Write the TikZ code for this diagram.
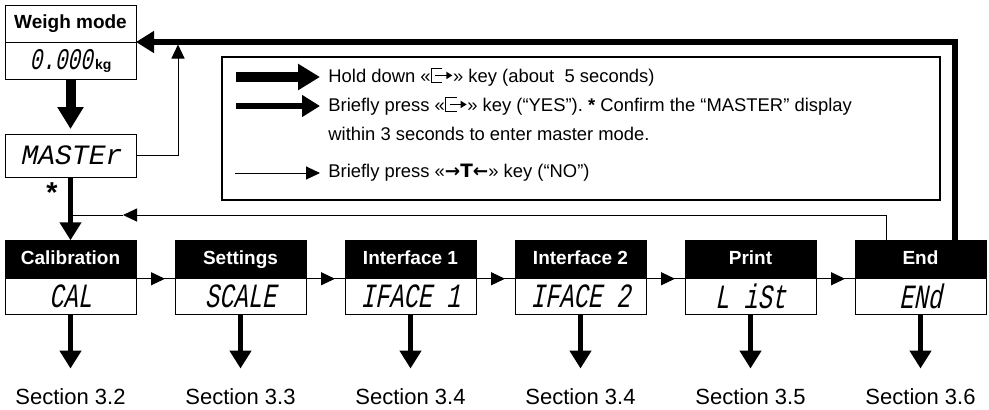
\documentclass[tikz,border=0pt]{standalone}
\usepackage{fontspec}
\setmainfont{Liberation Sans}
\newfontfamily\lcdfont[FakeSlant=0.2,FakeStretch=0.7]{Liberation Mono}
\newfontfamily\lcdwide[FakeSlant=0.2]{Liberation Mono}
\newfontfamily\symfont{DejaVu Sans}
\usetikzlibrary{arrows.meta,positioning}

\tikzset{
  headbox/.style={draw, fill=black, text=white, font=\bfseries\fontsize{9.5}{11}\selectfont,
    text height=7pt, text depth=2pt,
    minimum width=65.5pt, minimum height=19.25pt, inner sep=0pt, outer sep=0pt, line width=0.5pt},
  lcdbox/.style={draw, fill=white, font=\lcdfont\fontsize{17}{19}\selectfont,
    minimum width=65.5pt, minimum height=18pt, inner sep=0pt, outer sep=0pt, line width=0.5pt},
  secnode/.style={font=\fontsize{11}{13}\selectfont, inner xsep=0pt, inner ysep=10pt},
  legtext/.style={anchor=west, inner sep=0pt, font=\fontsize{9.2}{11}\selectfont},
  legendframe/.style={line width=0.6pt},
  bigarrow/.style={line width=5pt, -{Triangle[length=11pt,width=12.5pt]}},
  midarrow/.style={line width=2.8pt, -{Triangle[length=9pt,width=10.5pt]}},
  thinarrow/.style={line width=0.5pt, -{Triangle[length=7pt,width=6.5pt]}},
  thinline/.style={line width=0.5pt}
}

\NewDocumentCommand{\enterkey}{}{%
\tikz[x=1pt,y=1pt,baseline=0pt,line width=0.7pt]{\draw (5.5,7) -- (0,7) -- (0,0) -- (5.5,0);%
\draw[-{Triangle[length=3pt,width=3.5pt]}] (2,3.5) -- (10.5,3.5);}%
}

\NewDocumentCommand{\menucell}{mmmmm}{%
\node[headbox] (h#1) at (#2,259.5) {#3};%
\node[lcdbox, below=0pt of h#1] (d#1) {#4};%
\node[secnode] (s#1) at (#2,397) {Section #5};%
\draw[midarrow] (d#1) -- (s#1);%
}

\begin{document}
\begin{tikzpicture}[x=0.5pt,y=-0.5pt]
\useasboundingbox (0,0) rectangle (989,409);

% weigh mode and master display
\node[headbox, fill=white, text=black, minimum height=18.5pt] (hweigh) at (70.5,23.5) {Weigh mode};
\node[lcdbox, minimum height=18.5pt, font=\lcdfont\fontsize{15}{17}\selectfont, below=0pt of hweigh] (dweigh)
  {0.000{\normalfont\bfseries\fontsize{7}{8}\selectfont\,kg}};
\node[lcdbox, minimum height=21.5pt, font=\lcdwide\fontsize{14}{16}\selectfont] (master) at (70.5,155.5) {MASTEr};
\draw[bigarrow, shorten >=2.5pt] (dweigh) -- (master);

% menu row
\menucell{cal}{70.5}{Calibration}{CAL}{3.2}
\menucell{set}{240.5}{Settings}{SCALE}{3.3}
\menucell{ifa}{410.5}{Interface 1}{IFACE 1}{3.4}
\menucell{ifb}{580.5}{Interface 2}{IFACE 2}{3.4}
\menucell{prn}{750.5}{Print}{L iSt}{3.5}
\menucell{end}{920.5}{End}{ENd}{3.6}

\foreach \a/\b in {cal/set,set/ifa,ifa/ifb,ifb/prn,prn/end}{
  \draw[thinline] (h\a.south east) -- (h\b.south west);
  \draw[thinarrow, shorten >=5pt] (h\a.south east) -- (h\b.south west);
}

% master into the menu
\draw[midarrow] (master) -- (hcal);
\node[font=\Large\bfseries, inner sep=0pt] (star) at (52,193) {*};

% back to weigh mode
\coordinate (upjoin) at (178,44.5);
\draw[thinarrow] (master.east) -| (upjoin);
\coordinate (endtop) at (955,240.25);
\draw[midarrow] (endtop) |- (hweigh.south east);

% "no" from end
\coordinate (nostart) at (886,240.25);
\coordinate (notip) at (123,215);
\coordinate (nojoin) at (70.5,215);
\draw[thinarrow] (nostart) |- (notip);
\draw[thinline] (notip) -- (nojoin);

% legend
\draw[legendframe] (222,57) rectangle (940,200);
\node[legtext] (lhold) at (328,77) {Hold down «\enterkey» key (about\ \ 5 seconds)};
\node[legtext] (lyes) at (328,106) {Briefly press «\enterkey» key (“YES”). \textbf{*} Confirm the “MASTER” display};
\node[legtext] (lyesb) at (328,134) {within 3 seconds to enter master mode.};
\node[legtext] (lno) at (328,173) {Briefly press «{\symfont\bfseries →T←}» key (“NO”)};
\coordinate (khold) at (236,77);
\coordinate (kyes) at (236,106);
\coordinate (kno) at (235,173);
\draw[bigarrow, shorten >=4pt] (khold) -- (lhold);
\draw[midarrow, shorten >=4pt] (kyes) -- (lyes);
\draw[thinarrow, shorten >=4pt] (kno) -- (lno);
\end{tikzpicture}
\end{document}
